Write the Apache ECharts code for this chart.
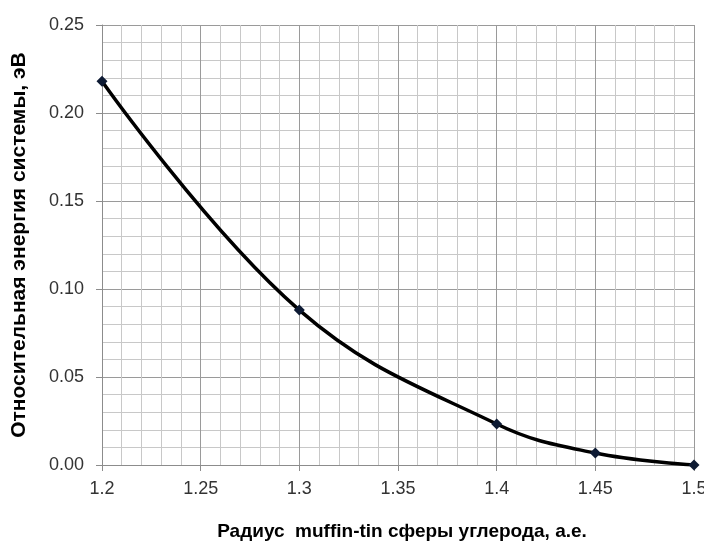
<!DOCTYPE html>
<html>
<head>
<meta charset="utf-8">
<script src="https://cdn.jsdelivr.net/npm/echarts@6/dist/echarts.min.js"></script>
<style>
  html, body { margin: 0; padding: 0; background: #fff; }
  #chart { width: 704px; height: 543px; }
</style>
</head>
<body>
<div id="chart"></div>
<script>
// радиус muffin-tin сферы, а.е.
var radius = [1.2, 1.3, 1.4, 1.45, 1.5]
// относительная энергия, эВ
var energy = [0.218, 0.088, 0.0233, 0.0068, 0.0]

var xTitle = 'Радиус  muffin-tin сферы углерода, а.е.'
var yTitle = 'Относительная энергия системы, эВ'

var chart = echarts.init(document.getElementById('chart'))

var points = radius.map(function(r, i) { return [r, energy[i]] })

chart.setOption({
  backgroundColor: '#fff',
  animation: false,
  grid: {
    left: 102,
    right: 10,
    top: 25,
    bottom: 78,
    containLabel: false,
    outerBoundsMode: 'none'
  },
  xAxis: {
    type: 'value',
    min: 1.2,
    max: 1.5,
    interval: 0.05,
    name: xTitle,
    nameLocation: 'middle',
    nameGap: 57,
    nameTextStyle: {
      fontFamily: 'Liberation Sans',
      fontWeight: 'bold',
      fontSize: 19,
      color: '#000',
      padding: [0, 0, 0, 8]
    },
    axisLine: { lineStyle: { color: '#8c8c8c', width: 1 } },
    axisTick: { show: true, length: 6, lineStyle: { color: '#8c8c8c' } },
    axisLabel: {
      fontFamily: 'Liberation Sans',
      fontSize: 18,
      color: '#333',
      margin: 15,
      formatter: function(v) { return String(+v.toFixed(2)) }
    },
    splitLine: { show: true, lineStyle: { color: '#9a9a9a', width: 1 } },
    minorTick: { show: false, splitNumber: 5 },
    minorSplitLine: { show: true, lineStyle: { color: '#c8c8c8', width: 1 } }
  },
  yAxis: {
    type: 'value',
    min: 0,
    max: 0.25,
    interval: 0.05,
    name: yTitle,
    nameLocation: 'middle',
    nameGap: 72,
    nameTextStyle: {
      fontFamily: 'Liberation Sans',
      fontWeight: 'bold',
      fontSize: 21,
      color: '#000'
    },
    axisLine: { show: true, lineStyle: { color: '#8c8c8c', width: 1 } },
    axisTick: { show: true, length: 6, lineStyle: { color: '#8c8c8c' } },
    axisLabel: {
      fontFamily: 'Liberation Sans',
      fontSize: 18,
      color: '#333',
      margin: 18,
      formatter: function(v) { return v.toFixed(2) }
    },
    splitLine: { show: true, lineStyle: { color: '#9a9a9a', width: 1 } },
    minorTick: { show: false, splitNumber: 5 },
    minorSplitLine: { show: true, lineStyle: { color: '#c8c8c8', width: 1 } }
  },
  series: [{
    type: 'line',
    data: points,
    smooth: 0.4,
    symbol: 'diamond',
    symbolSize: 11,
    itemStyle: { color: '#0d1a33' },
    lineStyle: { color: '#000', width: 3.5 },
    z: 5
  }]
})
</script>
</body>
</html>
